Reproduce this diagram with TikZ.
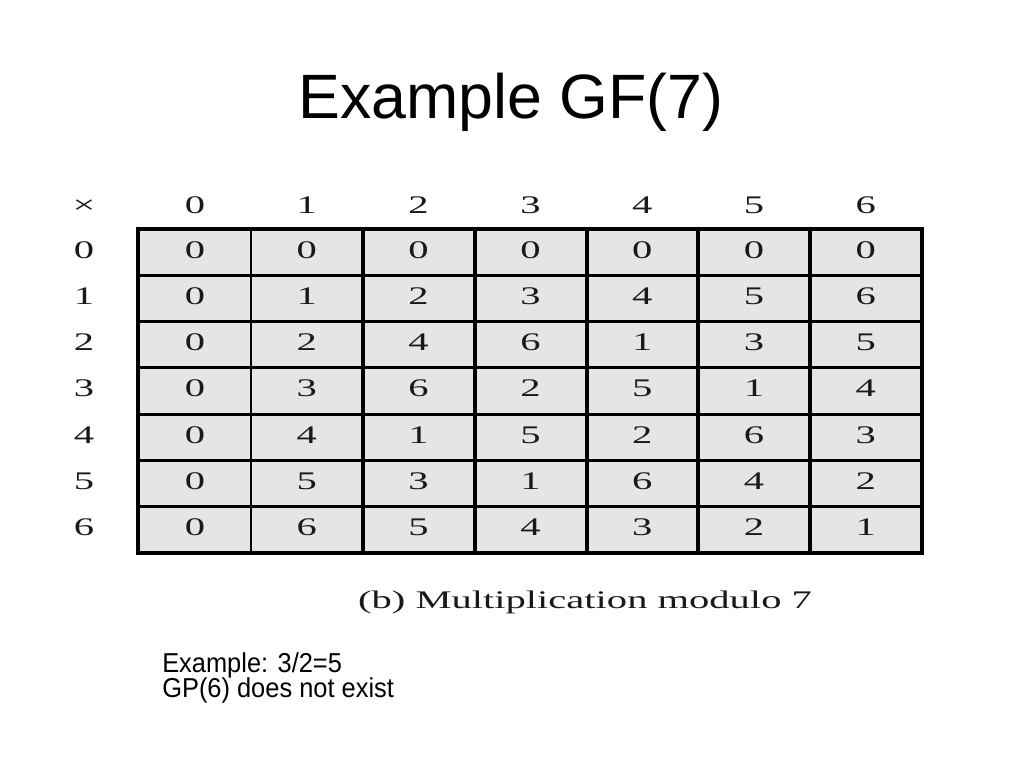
\documentclass[tikz,border=0pt]{standalone}
\usepackage{fontspec}
\setmainfont{Liberation Serif}
\newfontfamily\sansf{Liberation Sans}
\begin{document}
\begin{tikzpicture}[x=0.75pt,y=-0.75pt,
  titletext/.style={inner sep=0pt,anchor=base,font=\sansf\fontsize{47}{52}\selectfont},
  notetext/.style={inner sep=0pt,anchor=base west,font=\sansf\fontsize{20.5}{24}\selectfont},
  digit/.style={inner sep=0pt,anchor=base,font=\fontsize{19}{22}\selectfont,text=black!90},
  captiontext/.style={inner sep=0pt,anchor=base,font=\fontsize{19}{22}\selectfont,text=black!90},
  cellfill/.style={fill=black!10,draw=none},
  thickrule/.style={line width=2.3pt},
  thinrule/.style={line width=1.5pt},
  borderrule/.style={line width=3pt}]
\useasboundingbox (0,0) rectangle (1024,768);
\fill[white] (0,0) rectangle (1024,768);
% title
\node[titletext] (title) at (511,118) {Example GF(7)};
% table background
\fill[cellfill] (138,229) rectangle (922,553);
% horizontal rules
\foreach \r in {1,...,6}
  \draw[thickrule] (138,{229+46.29*\r}) -- (922,{229+46.29*\r});
% vertical rules
\draw[thinrule] (251,229) -- (251,553);
\foreach \x in {363,475,587,698,810}
  \draw[thickrule] (\x,229) -- (\x,553);
\draw[borderrule] (138,229) rectangle (922,553);
% header row and column
\node[digit] (times) at (84,213) {\scalebox{1.6}[1]{×}};
\foreach \c in {0,...,6}
  \node[digit] (h\c) at ({195+111.8*\c},213) {\scalebox{1.6}[1]{\c}};
\foreach \r in {0,...,6}
  \node[digit] (r\r) at (84,{258+46.29*\r}) {\scalebox{1.6}[1]{\r}};
% cells
\foreach \r in {0,...,6}
  \foreach \c in {0,...,6} {
    \pgfmathtruncatemacro\v{mod(\r*\c,7)}
    \node[digit] (c\r\c) at ({195+111.8*\c},{258+46.29*\r}) {\scalebox{1.6}[1]{\v}};
  }
% caption
\node[captiontext] (caption) at (585,608) {\scalebox{1.6}[1]{(b) Multiplication modulo 7}};
% notes
\node[notetext] (note1) at (162,672) {\scalebox{0.93}[1]{Example: 3/2=5}};
\node[notetext] (note2) at (162,697) {\scalebox{0.93}[1]{GP(6) does not exist}};
\end{tikzpicture}
\end{document}
